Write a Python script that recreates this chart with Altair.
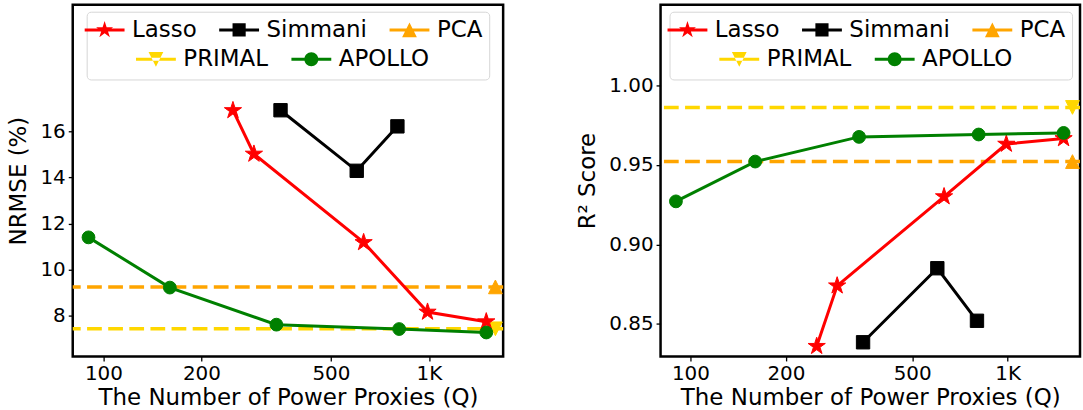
import altair as alt
import pandas as pd

FONT = "DejaVu Sans"

# ---------------- data ----------------
series_names = ["Lasso", "Simmani", "PCA", "PRIMAL", "APOLLO"]
series_colors = ["#ff0000", "#000000", "#ffa500", "#ffd700", "#008000"]

x_lasso = [250, 290, 630, 990, 1500]
x_simmani = [350, 600, 800]
x_apollo = [90, 160, 340, 810, 1500]
x_baseline = [1600]

nrmse_lasso = [16.91, 15.02, 11.18, 8.16, 7.74]
nrmse_simmani = [16.92, 14.29, 16.22]
nrmse_apollo = [11.40, 9.22, 7.61, 7.42, 7.27]
nrmse_pca = [9.25]
nrmse_primal = [7.43]

r2_lasso = [0.836, 0.874, 0.930, 0.963, 0.9665]
r2_simmani = [0.8385, 0.885, 0.852]
r2_apollo = [0.927, 0.952, 0.9675, 0.969, 0.970]
r2_pca = [0.952]
r2_primal = [0.986]

x_tick_values = [100, 200, 500, 1000]
x_tick_labels = ["100", "200", "500", "1K"]
nrmse_ticks = [8, 10, 12, 14, 16]
r2_ticks = [0.85, 0.90, 0.95, 1.00]

x_title = "The Number of Power Proxies (Q)"
x_domain = [80.5, 1690]

# ---------------- marker shapes (styles) ----------------
STAR_PTS = [(0, -1), (0.2245, -0.309), (0.951, -0.309), (0.363, 0.118), (0.588, 0.809),
            (0, 0.382), (-0.588, 0.809), (-0.363, 0.118), (-0.951, -0.309), (-0.2245, -0.309)]


def star_path(r):
    return "M" + "L".join(f"{px * r:.4f},{py * r:.4f}" for px, py in STAR_PTS) + "Z"


def square_path(r):
    return f"M{-r},{-r}H{r}V{r}H{-r}Z"


def tri_up_path(r):
    return f"M0,{-r}L{r},{r}L{-r},{r}Z"


def tri_down_path(r):
    return f"M0,{r}L{r},{-r}L{-r},{-r}Z"


def circle_path(r):
    return f"M{r},0A{r},{r} 0 1,1 {-r},0A{r},{r} 0 1,1 {r},0Z"


marker_paths = {
    "Lasso": star_path(1), "Simmani": square_path(1), "PCA": tri_up_path(1),
    "PRIMAL": tri_down_path(1), "APOLLO": "circle",
}
marker_sizes = {"Lasso": 330, "Simmani": 180, "PCA": 190, "PRIMAL": 190, "APOLLO": 165}

# legend symbols: unit = 10 px (symbolSize 400); line 40 px long, 3 px thick
LINE_SEG = "M-2,-0.15H2V0.15H-2Z"
legend_paths = {
    "Lasso": LINE_SEG + star_path(0.90),
    "Simmani": LINE_SEG + square_path(0.66),
    "PCA": LINE_SEG + tri_up_path(0.74),
    "PRIMAL": LINE_SEG + tri_down_path(0.74),
    "APOLLO": LINE_SEG + circle_path(0.70),
}
color_of = dict(zip(series_names, series_colors))

x_label_expr = ""
for v, lab in zip(x_tick_values, x_tick_labels):
    x_label_expr += f"datum.value == {v} ? '{lab}' : "
x_label_expr += "datum.label"


def panel(series_y, base_y, y_domain, y_ticks, y_fmt, y_title, width, legA, legB):
    X = alt.X("x:Q", scale=alt.Scale(type="log", domain=x_domain, nice=False),
              axis=alt.Axis(values=x_tick_values, labelExpr=x_label_expr, title=x_title))
    Y = alt.Y("y:Q", scale=alt.Scale(domain=y_domain, nice=False, zero=False),
              axis=alt.Axis(values=y_ticks, format=y_fmt, title=y_title))
    layers = []
    # dashed baselines + their markers
    for name in ["PCA", "PRIMAL"]:
        df = pd.DataFrame({"x": x_baseline, "y": base_y[name]})
        layers.append(alt.Chart(df).mark_rule(color=color_of[name], strokeWidth=3.5,
                                              strokeDash=[14.8, 6.4]).encode(y=Y))
        layers.append(alt.Chart(df).mark_point(filled=True, shape=marker_paths[name],
                                               size=marker_sizes[name], color=color_of[name],
                                               stroke=color_of[name], strokeWidth=1,
                                               opacity=1).encode(x=X, y=Y))
    # method curves
    xs = {"Lasso": x_lasso, "Simmani": x_simmani, "APOLLO": x_apollo}
    for name in ["Lasso", "Simmani", "APOLLO"]:
        df = pd.DataFrame({"x": xs[name], "y": series_y[name]})
        layers.append(alt.Chart(df).mark_line(color=color_of[name], strokeWidth=3).encode(x=X, y=Y))
        layers.append(alt.Chart(df).mark_point(filled=True, shape=marker_paths[name],
                                               size=marker_sizes[name], color=color_of[name],
                                               stroke=color_of[name], strokeWidth=1,
                                               opacity=1).encode(x=X, y=Y))

    # legends (two rows, second one centred)
    def legend_layer(names, pos, boxed):
        kw = dict(orient="none", legendX=pos[0], legendY=pos[1], direction="horizontal",
                  symbolSize=400, symbolStrokeWidth=0, symbolOpacity=1,
                  labelFontSize=23, labelFont=FONT, labelColor="black", labelOffset=16,
                  columnPadding=22, labelLimit=400)
        if boxed:
            kw.update(title="\u00a0", titleOrient="bottom", titleFontSize=23, titlePadding=8,
                      padding=6.5, strokeColor="#d6d6d6", cornerRadius=4)
        else:
            kw.update(title=None, padding=0)
        df = pd.DataFrame({"series": names})
        return alt.Chart(df).mark_point(filled=True).encode(
            fill=alt.Fill("series:N", scale=alt.Scale(domain=names, range=[color_of[n] for n in names]),
                          legend=alt.Legend(**kw)),
            shape=alt.Shape("series:N", scale=alt.Scale(domain=names, range=[legend_paths[n] for n in names]),
                            legend=alt.Legend(**kw)),
        ).transform_filter("false")

    layers.append(legend_layer(["Lasso", "Simmani", "PCA"], legA, True))
    layers.append(legend_layer(["PRIMAL", "APOLLO"], legB, False))

    return alt.layer(*layers).resolve_scale(fill="independent", shape="independent").properties(
        width=width, height=353)


left = panel({"Lasso": nrmse_lasso, "Simmani": nrmse_simmani, "APOLLO": nrmse_apollo},
             {"PCA": nrmse_pca, "PRIMAL": nrmse_primal},
             [6.23, 21.5], nrmse_ticks, "d", "NRMSE (%)", 432, (14, 7), (72, 43))
right = panel({"Lasso": r2_lasso, "Simmani": r2_simmani, "APOLLO": r2_apollo},
              {"PCA": r2_pca, "PRIMAL": r2_primal},
              [0.8296, 1.0505], r2_ticks, ".2f", "R² Score", 421, (9, 7), (67.5, 43))

chart = alt.hconcat(left, right, spacing=158, bounds="flush").properties(
    padding={"left": 6, "top": 2, "right": 0, "bottom": 0},
    background="white",
).configure_view(stroke="black", strokeWidth=2.5).configure_axis(
    domain=False, grid=False, ticks=True, tickColor="black", tickSize=4.5, tickWidth=1.3,
    labelFont=FONT, labelFontSize=20, labelColor="black", labelPadding=3,
    titleFont=FONT, titleFontSize=23, titleColor="black", titleFontWeight="normal",
).configure_axisY(titlePadding=9).configure_axisX(titlePadding=3)

chart.save("out.html", embed_options={"renderer": "svg", "actions": False})
